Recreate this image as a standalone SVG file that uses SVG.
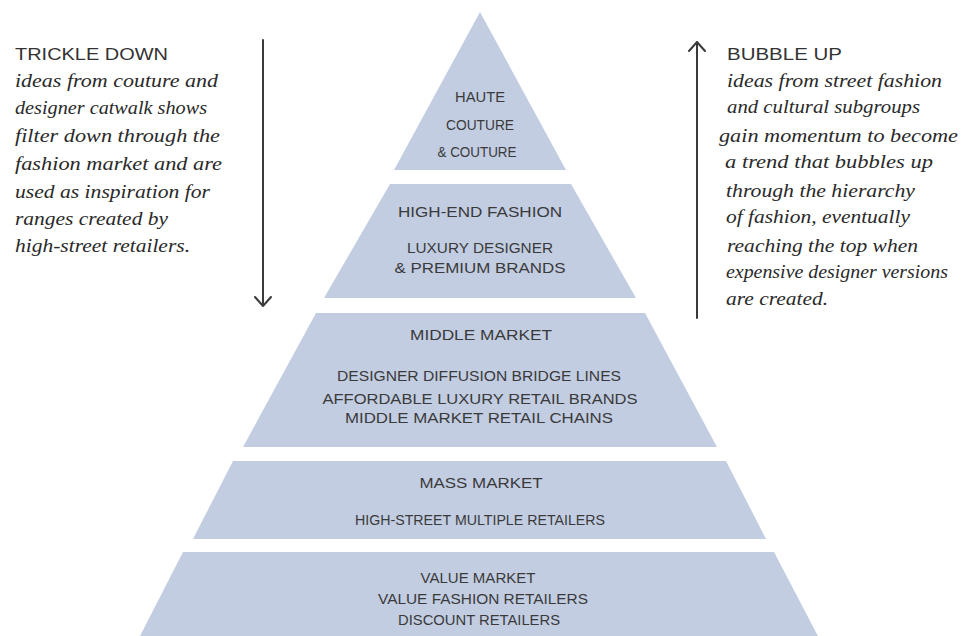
<svg xmlns="http://www.w3.org/2000/svg" width="961" height="636" viewBox="0 0 961 636">
<style>
.tier{fill:#c2cde2;stroke:none}
.lab{font-family:"Liberation Sans",Arial,sans-serif;font-size:14px;fill:#3a3a3a;text-anchor:middle}
.head{font-family:"Liberation Sans",Arial,sans-serif;font-size:17px;fill:#333}
.body{font-family:"Liberation Serif","Times New Roman",serif;font-style:italic;font-size:19px;fill:#2a2a2a}
.arr{stroke:#3a3a3a;stroke-width:2;fill:none;stroke-linecap:round;stroke-linejoin:round}
</style>
<rect width="961" height="636" fill="#ffffff"/>

<g id="tier-haute-couture">
<polygon class="tier" points="480,12 566,170 394,170"/>
<text class="lab" x="480" y="102" textLength="50" lengthAdjust="spacingAndGlyphs">HAUTE</text>
<text class="lab" x="480" y="130" textLength="68" lengthAdjust="spacingAndGlyphs">COUTURE</text>
<text class="lab" x="477" y="157" textLength="79" lengthAdjust="spacingAndGlyphs">&amp; COUTURE</text>
</g>

<g id="tier-high-end">
<polygon class="tier" points="390,184 571,184 636,298 324,298"/>
<text class="lab" x="480" y="217" textLength="164" lengthAdjust="spacingAndGlyphs">HIGH-END FASHION</text>
<text class="lab" x="480" y="253" textLength="146" lengthAdjust="spacingAndGlyphs">LUXURY DESIGNER</text>
<text class="lab" x="480" y="273" textLength="171" lengthAdjust="spacingAndGlyphs">&amp; PREMIUM BRANDS</text>
</g>

<g id="tier-middle-market">
<polygon class="tier" points="316,313 645,313 717,447 243,447"/>
<text class="lab" x="481" y="340" textLength="142" lengthAdjust="spacingAndGlyphs">MIDDLE MARKET</text>
<text class="lab" x="479" y="381" textLength="284" lengthAdjust="spacingAndGlyphs">DESIGNER DIFFUSION BRIDGE LINES</text>
<text class="lab" x="480" y="404" textLength="315" lengthAdjust="spacingAndGlyphs">AFFORDABLE LUXURY RETAIL BRANDS</text>
<text class="lab" x="479" y="423" textLength="268" lengthAdjust="spacingAndGlyphs">MIDDLE MARKET RETAIL CHAINS</text>
</g>

<g id="tier-mass-market">
<polygon class="tier" points="233,461 726,461 766,539 193,539"/>
<text class="lab" x="481" y="488" textLength="123" lengthAdjust="spacingAndGlyphs">MASS MARKET</text>
<text class="lab" x="480" y="525" textLength="250" lengthAdjust="spacingAndGlyphs">HIGH-STREET MULTIPLE RETAILERS</text>
</g>

<g id="tier-value-market">
<polygon class="tier" points="183,552 774,552 820,640 138,640"/>
<text class="lab" x="478" y="583" textLength="115" lengthAdjust="spacingAndGlyphs">VALUE MARKET</text>
<text class="lab" x="483" y="604" textLength="210" lengthAdjust="spacingAndGlyphs">VALUE FASHION RETAILERS</text>
<text class="lab" x="479" y="625" textLength="162" lengthAdjust="spacingAndGlyphs">DISCOUNT RETAILERS</text>
</g>

<g id="trickle-down">
<text class="head" x="15" y="60" textLength="153" lengthAdjust="spacingAndGlyphs">TRICKLE DOWN</text>
<text class="body" x="15" y="87" textLength="203" lengthAdjust="spacingAndGlyphs">ideas from couture and</text>
<text class="body" x="15" y="114" textLength="192" lengthAdjust="spacingAndGlyphs">designer catwalk shows</text>
<text class="body" x="15" y="142" textLength="205" lengthAdjust="spacingAndGlyphs">filter down through the</text>
<text class="body" x="15" y="170" textLength="207" lengthAdjust="spacingAndGlyphs">fashion market and are</text>
<text class="body" x="15" y="198" textLength="195" lengthAdjust="spacingAndGlyphs">used as inspiration for</text>
<text class="body" x="15" y="225" textLength="153" lengthAdjust="spacingAndGlyphs">ranges created by</text>
<text class="body" x="15" y="252" textLength="175" lengthAdjust="spacingAndGlyphs">high-street retailers.</text>
</g>

<g id="bubble-up">
<text class="head" x="727" y="60" textLength="115" lengthAdjust="spacingAndGlyphs">BUBBLE UP</text>
<text class="body" x="727" y="87" textLength="215" lengthAdjust="spacingAndGlyphs">ideas from street fashion</text>
<text class="body" x="727" y="113" textLength="193" lengthAdjust="spacingAndGlyphs">and cultural subgroups</text>
<text class="body" x="719" y="142" textLength="239" lengthAdjust="spacingAndGlyphs">gain momentum to become</text>
<text class="body" x="725" y="168" textLength="208" lengthAdjust="spacingAndGlyphs">a trend that bubbles up</text>
<text class="body" x="726" y="197" textLength="189" lengthAdjust="spacingAndGlyphs">through the hierarchy</text>
<text class="body" x="726" y="223" textLength="184" lengthAdjust="spacingAndGlyphs">of fashion, eventually</text>
<text class="body" x="727" y="252" textLength="191" lengthAdjust="spacingAndGlyphs">reaching the top when</text>
<text class="body" x="726" y="278" textLength="222" lengthAdjust="spacingAndGlyphs">expensive designer versions</text>
<text class="body" x="726" y="305" textLength="102" lengthAdjust="spacingAndGlyphs">are created.</text>
</g>

<g id="connectors">
<path class="arr" d="M263,40 V306 M255,297 L263,306 L271,297"/>
<path class="arr" d="M697,318 V42 M689,51 L697,42 L705,51"/>
</g>
</svg>
